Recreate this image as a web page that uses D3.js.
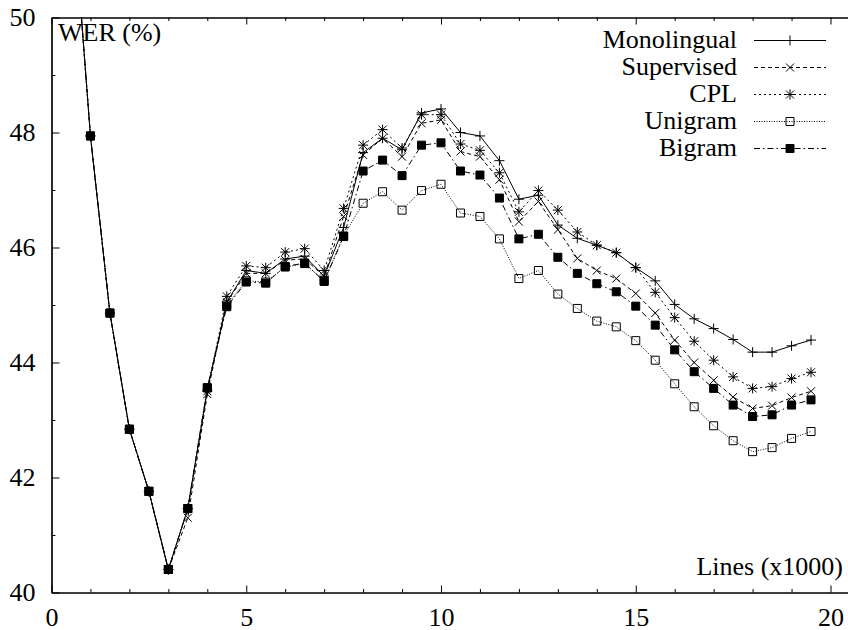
<!DOCTYPE html>
<html>
<head>
<meta charset="utf-8">
<script src="https://cdn.jsdelivr.net/npm/d3@7"></script>
<style>
  body { margin: 0; background: #fff; }
  svg { display: block; }
  text { font-family: "Liberation Serif", "Times New Roman", serif; fill: #000; }
</style>
</head>
<body>
<script>
(function () {
    'use strict';

    const width = 848;
    const height = 630;
    const fontSize = 26;

    // x positions (thousands of lines)
    const lines = [0.5, 1, 1.5, 2, 2.5, 3, 3.5, 4, 4.5, 5, 5.5, 6, 6.5, 7, 7.5, 8, 8.5, 9, 9.5, 10,
                   10.5, 11, 11.5, 12, 12.5, 13, 13.5, 14, 14.5, 15, 15.5, 16, 16.5, 17, 17.5, 18, 18.5, 19, 19.5];

    const monolingual = [52.4, 47.94, 44.86, 42.84, 41.76, 40.40, 41.46, 43.52, 45.05, 45.60, 45.55, 45.80, 45.85, 45.50, 46.35,
                         47.65, 47.90, 47.70, 48.34, 48.41, 48.00, 47.94, 47.51, 46.84, 46.91, 46.39, 46.16, 46.04, 45.91, 45.65,
                         45.42, 45.01, 44.76, 44.59, 44.40, 44.18, 44.18, 44.29, 44.39];
    const supervised = [52.4, 47.94, 44.86, 42.84, 41.76, 40.40, 41.30, 43.45, 45.05, 45.55, 45.55, 45.78, 45.80, 45.50, 46.54,
                        47.61, 47.90, 47.58, 48.16, 48.22, 47.67, 47.58, 47.18, 46.45, 46.80, 46.31, 45.81, 45.60, 45.46, 45.20,
                        44.86, 44.39, 44.00, 43.69, 43.40, 43.20, 43.25, 43.39, 43.50];
    const cpl = [52.4, 47.94, 44.86, 42.84, 41.76, 40.40, 41.46, 43.50, 45.15, 45.68, 45.65, 45.92, 45.98, 45.60, 46.68,
                 47.78, 48.05, 47.73, 48.31, 48.31, 47.80, 47.69, 47.30, 46.62, 46.99, 46.65, 46.27, 46.04, 45.91, 45.65,
                 45.22, 44.78, 44.37, 44.04, 43.75, 43.55, 43.58, 43.72, 43.83];
    const unigram = [52.4, 47.94, 44.86, 42.84, 41.76, 40.40, 41.46, 43.56, 45.00, 45.42, 45.40, 45.66, 45.72, 45.42, 46.20,
                     46.77, 46.97, 46.65, 46.99, 47.10, 46.60, 46.54, 46.15, 45.46, 45.60, 45.19, 44.94, 44.72, 44.62, 44.38,
                     44.04, 43.63, 43.23, 42.90, 42.64, 42.45, 42.52, 42.68, 42.80];
    const bigram = [52.4, 47.94, 44.86, 42.84, 41.76, 40.40, 41.46, 43.56, 44.97, 45.40, 45.38, 45.67, 45.73, 45.41, 46.19,
                    47.33, 47.52, 47.25, 47.78, 47.82, 47.33, 47.26, 46.86, 46.15, 46.23, 45.83, 45.55, 45.37, 45.23, 44.98,
                    44.65, 44.22, 43.84, 43.55, 43.26, 43.06, 43.09, 43.26, 43.35];

    const seriesNames = ['Monolingual', 'Supervised', 'CPL', 'Unigram', 'Bigram'];
    const seriesValues = [monolingual, supervised, cpl, unigram, bigram];

    const xMajorTicks = [0, 5, 10, 15, 20];
    const yMajorTicks = [40, 42, 44, 46, 48, 50];

    const styles = {
        Monolingual: {dash: null, marker: 'plus'},
        Supervised: {dash: '4,3', marker: 'cross'},
        CPL: {dash: '2,3', marker: 'star'},
        Unigram: {dash: '1,1.5', marker: 'openSquare'},
        Bigram: {dash: '6,3,1.5,3', marker: 'filledSquare'}
    };

    const left = 51.5, top = 17.5, bottom = 592.5;

    const x = d3.scaleLinear().domain([0, 20.5]).range([left, left + 38.95 * 20.5]);
    const y = d3.scaleLinear().domain([40, 50]).range([bottom, top]);

    const svg = d3.select('body')
        .append('svg')
        .attr('width', width)
        .attr('height', height);

    svg.append('defs').append('clipPath').attr('id', 'plot-clip')
        .append('rect')
        .attr('x', left).attr('y', top)
        .attr('width', x(20.5) - left).attr('height', bottom - top);

    const markerPath = (type) => {
        switch (type) {
            case 'plus': return 'M-5,0H5M0,-5V5';
            case 'cross': return 'M-4,-4L4,4M-4,4L4,-4';
            case 'star': return 'M-5,0H5M0,-5V5M-4,-4L4,4M-4,4L4,-4';
            default: return 'M-4,-4H4V4H-4Z';
        }
    };

    const drawMarker = (g, type, px, py) => {
        g.append('path')
            .attr('transform', `translate(${px},${py})`)
            .attr('d', markerPath(type))
            .attr('fill', type === 'filledSquare' ? '#000' : 'none')
            .attr('stroke', '#000')
            .attr('stroke-width', 1);
    };

    // axes
    const axisStyle = (g) => {
        g.selectAll('.domain').attr('stroke', '#000').attr('stroke-width', 1.2);
        g.selectAll('.tick line').attr('stroke', '#000').attr('stroke-width', 1);
        g.selectAll('text').attr('font-size', fontSize).attr('font-family', '"Liberation Serif", serif');
    };

    const xMinor = d3.range(0, 21).filter(v => v % 5 !== 0);
    const yMinor = [41, 43, 45, 47, 49];

    svg.append('g')
        .attr('transform', `translate(0,${bottom})`)
        .call(d3.axisBottom(x).tickValues(xMajorTicks).tickSizeInner(-7).tickSizeOuter(0).tickPadding(15)
            .tickFormat(d3.format('d')))
        .call(axisStyle);
    svg.append('g')
        .attr('transform', `translate(0,${bottom})`)
        .call(d3.axisBottom(x).tickValues(xMinor).tickSizeInner(-3.5).tickSizeOuter(0).tickFormat(''))
        .call(axisStyle);
    svg.append('g')
        .attr('transform', `translate(0,${top})`)
        .call(d3.axisTop(x).tickValues(xMajorTicks).tickSizeInner(-7).tickSizeOuter(0).tickFormat(''))
        .call(axisStyle);
    svg.append('g')
        .attr('transform', `translate(0,${top})`)
        .call(d3.axisTop(x).tickValues(xMinor).tickSizeInner(-3.5).tickSizeOuter(0).tickFormat(''))
        .call(axisStyle);
    svg.append('g')
        .attr('transform', `translate(${left},0)`)
        .call(d3.axisLeft(y).tickValues(yMajorTicks).tickSizeInner(-8).tickSizeOuter(0).tickPadding(16)
            .tickFormat(d3.format('d')))
        .call(axisStyle);
    svg.append('g')
        .attr('transform', `translate(${left},0)`)
        .call(d3.axisLeft(y).tickValues(yMinor).tickSizeInner(-4).tickSizeOuter(0).tickFormat(''))
        .call(axisStyle);

    // axis titles inside the frame
    svg.append('text')
        .attr('x', 58).attr('y', 40.5)
        .attr('font-size', fontSize)
        .text('WER (%)');
    svg.append('text')
        .attr('x', 843).attr('y', 575)
        .attr('text-anchor', 'end')
        .attr('font-size', fontSize)
        .text('Lines (x1000)');

    // series
    const plot = svg.append('g').attr('clip-path', 'url(#plot-clip)');
    const line = d3.line().x(d => x(d[0])).y(d => y(d[1]));

    seriesNames.forEach((name, i) => {
        const pts = lines.map((lx, j) => [lx, seriesValues[i][j]]);
        const st = styles[name];
        plot.append('path')
            .attr('d', line(pts))
            .attr('fill', 'none')
            .attr('stroke', '#000')
            .attr('stroke-width', 1)
            .attr('stroke-dasharray', st.dash);
        pts.filter(p => p[1] <= 50).forEach(p => drawMarker(plot, st.marker, x(p[0]), y(p[1])));
    });

    // legend
    const legend = svg.append('g');
    seriesNames.forEach((name, i) => {
        const ly = 40.5 + i * 27;
        const st = styles[name];
        legend.append('text')
            .attr('x', 737).attr('y', ly + 7.5)
            .attr('text-anchor', 'end')
            .attr('font-size', fontSize)
            .text(name);
        legend.append('line')
            .attr('x1', 754).attr('x2', 826)
            .attr('y1', ly).attr('y2', ly)
            .attr('stroke', '#000')
            .attr('stroke-width', 1)
            .attr('stroke-dasharray', st.dash);
        drawMarker(legend, st.marker, 790, ly);
    });
}());
</script>
</body>
</html>
